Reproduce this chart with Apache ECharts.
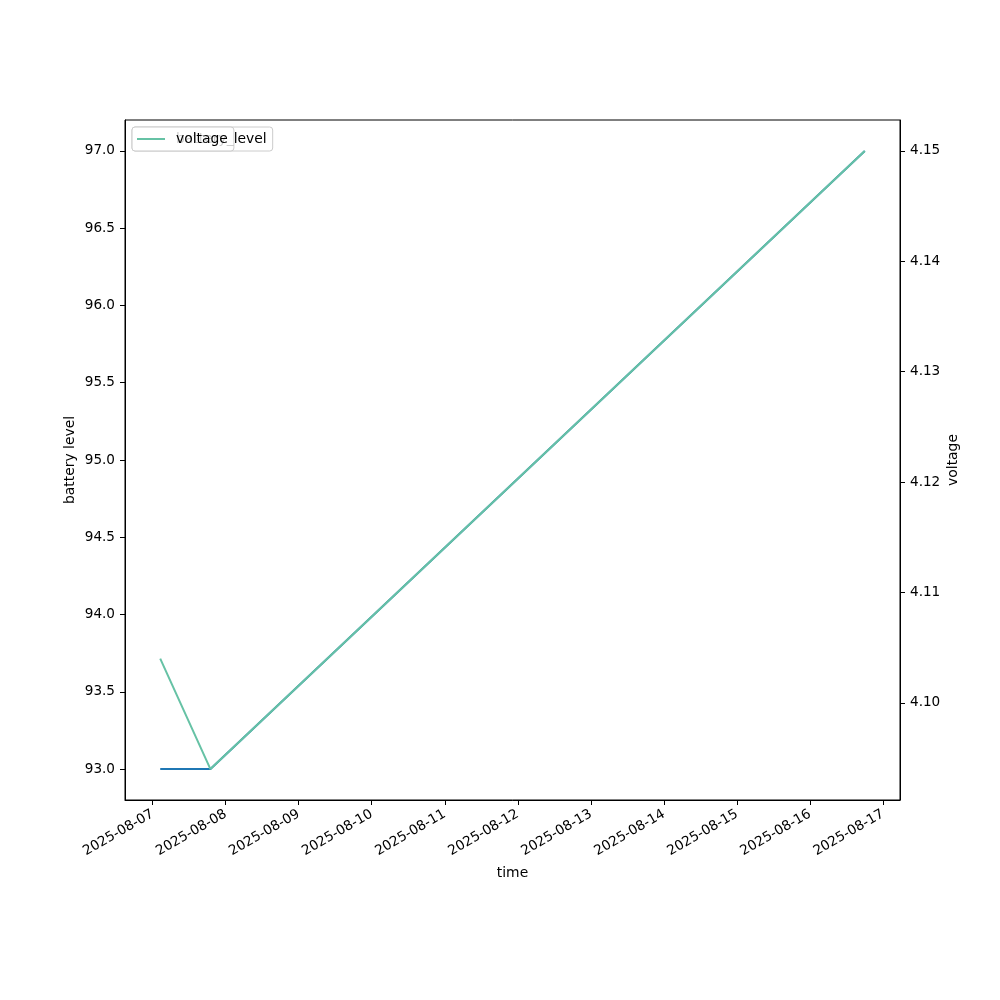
<!DOCTYPE html>
<html>
<head>
<meta charset="utf-8">
<script src="https://cdn.jsdelivr.net/npm/echarts@6/dist/echarts.min.js"></script>
<style>html,body{margin:0;padding:0;background:#fff;}#c{width:1000px;height:1000px;}</style>
</head>
<body>
<div id="c"></div>
<script>
// Data
const times = ['2025-08-07T02:30', '2025-08-07T19:00', '2025-08-16T18:00'];
const batteryLevel = [93.0, 93.0, 97.0];
const voltage = [4.104, 4.094, 4.150];
const xTickLabels = ['2025-08-07','2025-08-08','2025-08-09','2025-08-10','2025-08-11','2025-08-12','2025-08-13','2025-08-14','2025-08-15','2025-08-16','2025-08-17'];
const leftTicks = [93.0, 93.5, 94.0, 94.5, 95.0, 95.5, 96.0, 96.5, 97.0];
const rightTicks = [4.10, 4.11, 4.12, 4.13, 4.14, 4.15];

function toMs(s) {
  const [d, t] = s.split('T');
  const [Y, M, D] = d.split('-').map(Number);
  const [h, m] = (t || '00:00').split(':').map(Number);
  return Date.UTC(Y, M - 1, D, h, m);
}
function fmtDate(ms) {
  const d = new Date(ms);
  const p = n => String(n).padStart(2, '0');
  return d.getUTCFullYear() + '-' + p(d.getUTCMonth() + 1) + '-' + p(d.getUTCDate());
}
const tMs = times.map(toMs);
const xTickMs = xTickLabels.map(toMs);

function pad(min, max) { const r = max - min; return [min - 0.05 * r, max + 0.05 * r]; }
const xr = pad(Math.min(...tMs), Math.max(...tMs));
const lr = pad(Math.min(...batteryLevel), Math.max(...batteryLevel));
const rr = pad(Math.min(...voltage), Math.max(...voltage));

const font = 'DejaVu Sans';
const txt = { color: '#000', fontFamily: font, fontSize: 13.6 };

const chart = echarts.init(document.getElementById('c'), null, { renderer: 'canvas' });
chart.setOption({
  backgroundColor: '#fff',
  animation: false,
  grid: { left: 125, right: 100, top: 120, bottom: 200, show: true, borderColor: '#000', borderWidth: 1, backgroundColor: 'transparent' },
  legend: [
    {
      data: ['battery_level'], left: 132, top: 127, z: 4,
      orient: 'vertical', icon: 'rect', itemWidth: 28, itemHeight: 2,
      padding: [5, 6, 5, 5], borderColor: '#ccc', borderWidth: 1, borderRadius: 3,
      backgroundColor: 'rgba(255,255,255,0.8)',
      textStyle: Object.assign({}, txt, { fontSize: 13.9, padding: [0, 0, 0, 6] })
    },
    {
      data: ['voltage'], left: 132, top: 127, z: 6,
      orient: 'vertical', icon: 'rect', itemWidth: 28, itemHeight: 2,
      padding: [5, 6, 5, 5], borderColor: '#ccc', borderWidth: 1, borderRadius: 3,
      backgroundColor: 'rgba(255,255,255,0.8)',
      textStyle: Object.assign({}, txt, { fontSize: 13.9, padding: [0, 0, 0, 6] })
    }
  ],
  xAxis: {
    type: 'value', min: xr[0], max: xr[1],
    name: 'time', nameLocation: 'middle', nameGap: 66, nameMoveOverlap: false,
    nameTextStyle: Object.assign({}, txt, { fontSize: 13.9 }),
    axisLine: { show: true, lineStyle: { color: '#000', width: 1 } },
    axisTick: { show: true, length: 5, lineStyle: { color: '#000' }, customValues: xTickMs },
    axisLabel: Object.assign({}, txt, { rotate: 30, margin: 13, customValues: xTickMs, formatter: v => fmtDate(v) }),
    splitLine: { show: false }
  },
  yAxis: [
    {
      type: 'value', min: lr[0], max: lr[1], position: 'left',
      name: 'battery level', nameLocation: 'middle', nameGap: 48, nameMoveOverlap: false,
      nameTextStyle: Object.assign({}, txt, { fontSize: 13.9 }),
      axisLine: { show: true, lineStyle: { color: '#000', width: 1 } },
      axisTick: { show: true, length: 5, lineStyle: { color: '#000' }, customValues: leftTicks },
      axisLabel: Object.assign({}, txt, { margin: 10, customValues: leftTicks, formatter: v => v.toFixed(1) }),
      splitLine: { show: false }
    },
    {
      type: 'value', min: rr[0], max: rr[1], position: 'right',
      name: 'voltage', nameLocation: 'middle', nameGap: 46, nameMoveOverlap: false,
      nameTextStyle: Object.assign({}, txt, { fontSize: 13.9 }),
      axisLine: { show: true, lineStyle: { color: '#000', width: 1 } },
      axisTick: { show: true, length: 5, lineStyle: { color: '#000' }, customValues: rightTicks },
      axisLabel: Object.assign({}, txt, { margin: 10, customValues: rightTicks, formatter: v => v.toFixed(2) }),
      splitLine: { show: false }
    }
  ],
  series: [
    {
      name: 'battery_level', type: 'line', yAxisIndex: 0, showSymbol: false, symbol: 'none',
      color: '#1f77b4', lineStyle: { width: 2, color: '#1f77b4' },
      data: tMs.map((t, i) => [t, batteryLevel[i]])
    },
    {
      name: 'voltage', type: 'line', yAxisIndex: 1, showSymbol: false, symbol: 'none',
      color: '#66c2a5', lineStyle: { width: 2, color: '#66c2a5' },
      data: tMs.map((t, i) => [t, voltage[i]])
    }
  ]
});
</script>
</body>
</html>
